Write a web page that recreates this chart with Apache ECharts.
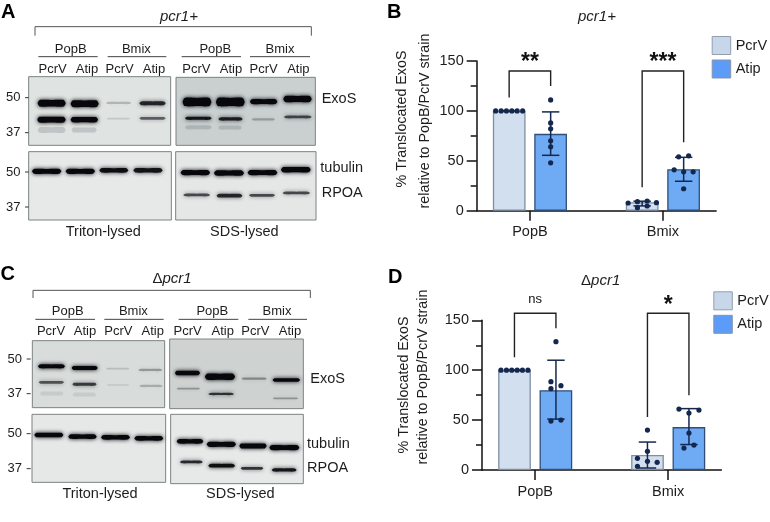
<!DOCTYPE html>
<html><head><meta charset="utf-8">
<style>html,body{margin:0;padding:0;background:#fff}#c{width:770px;height:522px}</style>
<script src="https://cdn.jsdelivr.net/npm/echarts@6/dist/echarts.min.js"></script>
</head><body><div id="c"></div>
<script>
// ---------- data ----------
const categories = ['PopB', 'Bmix'];
const seriesNames = ['PcrV', 'Atip'];
const yTicks = [0, 50, 100, 150];
const axisName = ['% Translocated ExoS', 'relative to PopB/PcrV strain'];

const bPcrVMeans = [100, 8.4];
const bAtipMeans = [77, 41.5];
const bPcrVErr = [[100, 100], [4.8, 9.5]];
const bAtipErr = [[55.5, 99], [29.5, 53.5]];
const bPopBPcrV = [100, 100, 100, 100, 100, 100];
const bPopBAtip = [111, 88, 82, 70, 64, 48];
const bBmixPcrV = [7.7, 9, 3, 9.7, 4.7, 8];
const bBmixAtip = [54, 55, 41, 39, 39, 22];

const dPcrVMeans = [100, 15];
const dAtipMeans = [80, 43];
const dPcrVErr = [[100, 100], [2, 28]];
const dAtipErr = [[51, 110], [25.5, 61.5]];
const dPopBPcrV = [100, 100, 100, 100, 100, 100];
const dPopBAtip = [128.6, 88.5, 84.5, 81.5, 49, 50];
const dBmixPcrV = [40, 18.7, 11.7, 3.7, 8.7, 7.7];
const dBmixAtip = [61, 60, 57, 37, 25, 22];

// horizontal swarm spread of the dots, px
const spread6 = [-13.5, -8, -2.7, 2.7, 8, 13.5];
const spreadNone = [0, 0, 0, 0, 0, 0];
const bBmixPcrVSpread = [-14, -4.7, -4.7, 5, 5, 14.3];
const bBmixAtipSpread = [-5, 5, -9.5, 0, 9.5, 0];
const dPopBAtipSpread = [0, -5, 5, -5, -5, 5];
const dBmixPcrVSpread = [0, 0, -10, -10, 0, 9.7];
const dBmixAtipSpread = [-10, 10, 0, 0, 5, -5];

// brackets: group, left foot, top, right foot, label
const bBrackets = [[1, 113.5, 140, 125, '**'], [2, 23.4, 140, 68.5, '***']];
const dBrackets = [[1, 113, 157, 142, 'ns'], [2, 53, 157, 75, '*']];

// western blot bands, gel scan units: from, to, migration, thickness, intensity
const aExoSTriton = [[113,197,310,15,1],[212,296,311,15,1],[318,394,309,5,.2],[418,497,310,9,.8],
  [112,197,359,13,1],[212,294,359,12,1],[320,390,356,4,.12],[418,497,355,6,.55],
  [113,197,390,13,.13],[215,290,390,11,.13]];
const aExoSSDS = [[548,634,306,19,1],[648,734,306,19,1],[750,832,305,11,1],[850,935,297,14,1],
  [555,635,355,7,.9],[655,728,357,7,.85],[755,825,358,5,.25],[852,935,351,6,.65],
  [555,635,382,9,.13],[655,725,383,9,.13]];
const aTubulinTriton = [[96,184,514,11,1],[197,285,514,11,1],[298,385,511,10,.95],[400,488,511,10,.9]];
const aTubulinSDS = [[542,630,518,11,1],[642,732,519,12,1],[743,832,518,11,1],[843,932,509,12,1],
  [550,630,585,6,.65],[650,727,587,8,.8],[747,825,586,6,.65],[848,930,579,6,.65]];
const cExoSTriton = [[114,195,313,9,1],[215,293,318,9,1],[318,388,320,4,.15],[415,487,324,5,.3],
  [116,192,361,6,.6],[217,290,367,7,.7],[320,388,369,3,.1],[418,488,372,5,.22],
  [120,190,395,9,.08],[218,288,398,9,.08]];
const cExoSSDS = [[525,600,333,10,1],[615,705,344,14,1],[725,800,350,5,.35],[818,900,354,8,1],
  [530,600,380,4,.3],[625,702,396,5,.75],[818,895,409,4,.3]];
const cTubulinTriton = [[103,190,519,10,1],[205,290,524,10,1],[303,390,526,10,1],[403,490,529,10,1]];
const cTubulinSDS = [[530,610,538,10,1],[620,708,547,11,1],[718,800,552,11,1],[808,898,557,11,1],
  [540,608,600,6,.8],[625,705,611,8,.95],[722,790,619,6,.75],[815,890,624,7,.9]];

const laneLabels = ['PcrV', 'Atip'];
const lysisLabels = ['Triton-lysed', 'SDS-lysed'];
const targetLabels = ['ExoS', 'tubulin', 'RPOA'];
const ladderLabels = ['50', '37', '50', '37'];

// ---------- layout ----------
const FONT = '"Liberation Sans", Arial, sans-serif';
const INK = '#1d1d1d', NAVY = '#14284f';
const UNIT = 133;
const SIDE = 20.75 / UNIT;
const grids = [], xAxes = [], yAxes = [], series = [], graphics = [];

function text(str, x, y, o) {
  graphics.push({type: 'text', x, y, rotation: (o && o.rot) || 0, silent: true, style: Object.assign({
    text: str, fontFamily: FONT, fontSize: 13, fill: INK, align: 'center', verticalAlign: 'middle'
  }, o || {})});
}
function line(x1, y1, x2, y2, stroke, w) {
  graphics.push({type: 'line', silent: true, shape: {x1, y1, x2, y2}, style: {stroke: stroke || '#555', lineWidth: w || 1}});
}

// --- bar charts ---
function addChart(cfg) {
  const gi = grids.length;
  grids.push({left: cfg.left, top: cfg.top, width: 239.4, height: 149.7});
  xAxes.push({gridIndex: gi, type: 'value', min: .6, max: 2.4, splitLine: {show: false},
    axisLine: {onZero: false, lineStyle: {color: '#111', width: 1.5}},
    axisTick: {customValues: [1, 2], length: 10, lineStyle: {color: '#111', width: 1.5}},
    axisLabel: {customValues: [1, 2], margin: 14, fontFamily: FONT, fontSize: 14.5, color: INK,
      formatter: v => categories[Math.round(v) - 1]}});
  yAxes.push({gridIndex: gi, type: 'value', min: 0, max: 150, splitNumber: 3, splitLine: {show: false},
    axisLine: {show: true, onZero: false, lineStyle: {color: '#111', width: 1.5}},
    axisTick: {show: true, length: 10, lineStyle: {color: '#111', width: 1.5}},
    minorTick: {show: true, splitNumber: 2, length: 6, lineStyle: {color: '#111', width: 1.5}},
    axisLabel: {margin: 13, fontFamily: FONT, fontSize: 14.5, color: INK, customValues: yTicks}});
  const common = {xAxisIndex: gi, yAxisIndex: gi};
  series.push(Object.assign({type: 'bar', name: seriesNames[0], barWidth: 32.7, barGap: '26.6%', z: 2,
    itemStyle: {color: '#d2dfee', borderColor: '#7f8ea3', borderWidth: 1.3},
    data: cfg.means[0].map((v, i) => [i + 1, v])}, common));
  series.push(Object.assign({type: 'bar', name: seriesNames[1], barWidth: 32.7, barGap: '26.6%', z: 2,
    itemStyle: {color: '#6fabf5', borderColor: '#2f4f78', borderWidth: 1.3},
    data: cfg.means[1].map((v, i) => [i + 1, v])}, common));
  // error bars
  const errData = [];
  cfg.err.forEach((arr, s) => arr.forEach((e, g) => errData.push([g + 1 + (s ? SIDE : -SIDE), e[0], e[1]])));
  series.push(Object.assign({type: 'custom', name: 'error', z: 4, encode: {x: 0, y: [1, 2]},
    renderItem(p, api) {
      const lo = api.coord([api.value(0), api.value(1)]), hi = api.coord([api.value(0), api.value(2)]);
      const st = {stroke: NAVY, lineWidth: 1.5, fill: null};
      const cap = 8.7;
      return {type: 'group', children: [
        {type: 'line', shape: {x1: lo[0], y1: lo[1], x2: hi[0], y2: hi[1]}, style: st},
        {type: 'line', shape: {x1: lo[0] - cap, y1: lo[1], x2: lo[0] + cap, y2: lo[1]}, style: st},
        {type: 'line', shape: {x1: hi[0] - cap, y1: hi[1], x2: hi[0] + cap, y2: hi[1]}, style: st}
      ]};
    }, data: errData}, common));
  // dots
  const dots = [];
  cfg.points.forEach(pt => pt.values.forEach((v, i) => dots.push([pt.x + pt.spread[i] / UNIT, v])));
  series.push(Object.assign({type: 'scatter', name: 'replicates', symbolSize: 5.2, z: 5,
    itemStyle: {color: NAVY, opacity: 1}, data: dots}, common));
  // brackets
  series.push(Object.assign({type: 'custom', name: 'brackets', z: 6, clip: false, encode: {x: 0, y: [1, 2, 3]},
    renderItem(p, api) {
      const g = api.value(0);
      const l0 = api.coord([g - SIDE, api.value(1)]), lt = api.coord([g - SIDE, api.value(2)]);
      const rt = api.coord([g + SIDE, api.value(2)]), r0 = api.coord([g + SIDE, api.value(3)]);
      const lab = cfg.brackets[p.dataIndex][4];
      const isStar = lab !== 'ns';
      return {type: 'group', children: [
        {type: 'polyline', shape: {points: [l0, lt, rt, r0]}, style: {stroke: '#222', lineWidth: 1.4, fill: null}},
        {type: 'text', x: (lt[0] + rt[0]) / 2, y: lt[1] - (isStar ? cfg.starLift : cfg.nsLift),
          style: {text: lab, fontFamily: FONT, fontSize: isStar ? 23 : 13, fontWeight: isStar ? 'bold' : 'normal',
            fill: '#111', align: 'center', verticalAlign: 'middle'}}
      ]};
    }, data: cfg.brackets.map(b => b.slice(0, 4))}, common));
  // rotated axis title, one text per line
  text(axisName[0], cfg.name[0][0], cfg.name[0][1], {rot: Math.PI / 2, fontSize: 14.3});
  text(axisName[1], cfg.name[1][0], cfg.name[1][1], {rot: Math.PI / 2, fontSize: 14.3});
}

addChart({left: 476.7, top: 61, means: [bPcrVMeans, bAtipMeans], err: [bPcrVErr, bAtipErr],
  points: [{x: 1 - SIDE, values: bPopBPcrV, spread: spread6}, {x: 1 + SIDE, values: bPopBAtip, spread: spreadNone},
           {x: 2 - SIDE, values: bBmixPcrV, spread: bBmixPcrVSpread}, {x: 2 + SIDE, values: bBmixAtip, spread: bBmixAtipSpread}],
  brackets: bBrackets, starLift: 8, nsLift: 15, name: [[402, 119], [425, 121]]});
addChart({left: 482, top: 320.3, means: [dPcrVMeans, dAtipMeans], err: [dPcrVErr, dAtipErr],
  points: [{x: 1 - SIDE, values: dPopBPcrV, spread: spread6}, {x: 1 + SIDE, values: dPopBAtip, spread: dPopBAtipSpread},
           {x: 2 - SIDE, values: dBmixPcrV, spread: dBmixPcrVSpread}, {x: 2 + SIDE, values: dBmixAtip, spread: dBmixAtipSpread}],
  brackets: dBrackets, starLift: 8, nsLift: 13.5, name: [[404, 385], [423, 377]]});

// --- blot panels: hidden axes in gel-scan units ---
function addBlot(x0, x1, y0, y1, originY, bg, bands) {
  const gi = grids.length;
  grids.push({show: true, left: x0 / 3, top: originY + y0 / 3, width: (x1 - x0) / 3, height: (y1 - y0) / 3,
    backgroundColor: bg, borderColor: '#7c8282', borderWidth: 1});
  xAxes.push({gridIndex: gi, type: 'value', min: x0, max: x1, show: false});
  yAxes.push({gridIndex: gi, type: 'value', min: y0, max: y1, inverse: true, show: false});
  series.push({type: 'custom', name: 'bands', xAxisIndex: gi, yAxisIndex: gi, clip: true, encode: {x: [0, 1], y: 2},
    renderItem(p, api) {
      const a = api.coord([api.value(0), api.value(2)]), b = api.coord([api.value(1), api.value(2)]);
      const h = api.value(3) / 3 * 1.3, s = api.value(4), t = (b[0] - a[0]) * .07;
      const col = 'rgba(8,8,12,' + Math.min(1, s) + ')';
      return {type: 'polygon', shape: {smooth: .2, points: [
        [a[0], a[1]], [a[0] + t, a[1] - h / 2], [(a[0] + b[0]) / 2, a[1] - h / 2], [b[0] - t, a[1] - h / 2],
        [b[0], a[1]], [b[0] - t, a[1] + h / 2], [(a[0] + b[0]) / 2, a[1] + h / 2], [a[0] + t, a[1] + h / 2]
      ]}, style: {fill: col, shadowBlur: 4, shadowColor: col}};
    }, data: bands});
}
addBlot(86, 512, 230, 436, 0, '#dfe3e2', aExoSTriton);
addBlot(528, 946, 232, 436, 0, '#c9d0cf', aExoSSDS);
addBlot(86, 514, 455, 660, 0, '#e6e9e8', aTubulinTriton);
addBlot(527, 948, 455, 660, 0, '#e4e7e6', aTubulinSDS);
addBlot(97, 494, 236, 437, 262, '#d8dddc', cExoSTriton);
addBlot(509, 910, 231, 440, 262, '#ced3d2', cExoSSDS);
addBlot(96, 497, 457, 661, 262, '#e5e8e7', cTubulinTriton);
addBlot(512, 910, 457, 665, 262, '#e6e9e8', cTubulinSDS);

// --- blot annotation ---
function annotate(o) {
  const z = v => v / 3, zy = v => o.oy + v / 3;
  const br = o.bracket;
  graphics.push({type: 'polyline', silent: true, shape: {points: [[z(br[0]), zy(br[3])], [z(br[0]), zy(br[2])], [z(br[1]), zy(br[2])], [z(br[1]), zy(br[3])]]},
    style: {stroke: '#555', lineWidth: 1, fill: null}});
  o.groupLines.forEach((g, i) => {
    line(z(g[0]), zy(o.groupY), z(g[1]), zy(o.groupY), '#444', 1);
    text(categories[i % 2], z(o.groupX[i]), zy(o.groupTextY), {fontSize: 13});
  });
  o.laneX.forEach((x, i) => text(laneLabels[i % 2], z(x), zy(o.laneY), {fontSize: 13}));
  o.ladderY.forEach((y, i) => {
    text(ladderLabels[i], z(o.ladderX), zy(y), {fontSize: 13});
    line(z(o.ladderTick[0]), zy(y), z(o.ladderTick[1]), zy(y), '#333', 1);
  });
  o.target.forEach((t, i) => text(targetLabels[i], z(t[0]), zy(t[1]), {fontSize: 14.5, align: 'left'}));
  o.lysis.forEach((l, i) => text(lysisLabels[i], z(l), zy(o.lysisY), {fontSize: 14.5}));
}
annotate({oy: 0, bracket: [105, 934, 80, 107], groupY: 170, groupTextY: 147,
  groupLines: [[115, 293], [323, 499], [545, 723], [750, 930]], groupX: [212, 409, 646, 840],
  laneX: [158, 261, 359, 462, 589, 693, 791, 895], laneY: 207,
  ladderX: 40, ladderTick: [75, 86], ladderY: [293, 398, 516, 621],
  target: [[965, 298], [961, 503], [965, 580]], lysis: [310, 733], lysisY: 695});
annotate({oy: 262, bracket: [99, 931, 85, 108], groupY: 172, groupTextY: 148,
  groupLines: [[106, 285], [313, 491], [536, 715], [745, 921]], groupX: [203, 400, 637, 831],
  laneX: [153, 255, 355, 458, 563, 668, 766, 870], laneY: 208,
  ladderX: 44, ladderTick: [80, 92], ladderY: [291, 395, 515, 620],
  target: [[931, 350], [921, 545], [921, 619]], lysis: [300, 721], lysisY: 695});

// titles and panel letters
const rich = {n: {fontFamily: FONT, fontSize: 15, fill: INK}, i: {fontFamily: FONT, fontSize: 15, fontStyle: 'italic', fill: INK}};
[[179, 17], [597, 17]].forEach(t => text('pcr1+', t[0], t[1], {fontSize: 15, fontStyle: 'italic'}));
[[172, 279.3], [600.7, 281]].forEach(t => text('{n|Δ}{i|pcr1}', t[0], t[1], {rich, fontSize: 15}));
[['A', 1, 12.7], ['B', 387, 12.7], ['C', 0.5, 274], ['D', 388, 277]].forEach(t =>
  text(t[0], t[1], t[2], {fontSize: 20, fontWeight: 'bold', align: 'left', fill: '#000'}));

const legendData = [
  {name: seriesNames[0], itemStyle: {color: '#c7d6e8', borderColor: '#919eae', borderWidth: 1}},
  {name: seriesNames[1], itemStyle: {color: '#5c9cf8', borderColor: '#8594a8', borderWidth: 1}}];
const legendBase = {orient: 'vertical', icon: 'rect', itemWidth: 18.5, itemHeight: 18, itemGap: 4.5, padding: 0,
  selectedMode: false, data: legendData, textStyle: {fontFamily: FONT, fontSize: 14.5, color: INK}};

const chart = echarts.init(document.getElementById('c'), null, {renderer: 'canvas'});
chart.setOption({
  animation: false, backgroundColor: '#fff',
  legend: [Object.assign({left: 711.7, top: 36}, legendBase), Object.assign({left: 713.3, top: 291.3}, legendBase)],
  grid: grids, xAxis: xAxes, yAxis: yAxes, series, graphic: graphics, tooltip: {show: false}
});
</script></body></html>
